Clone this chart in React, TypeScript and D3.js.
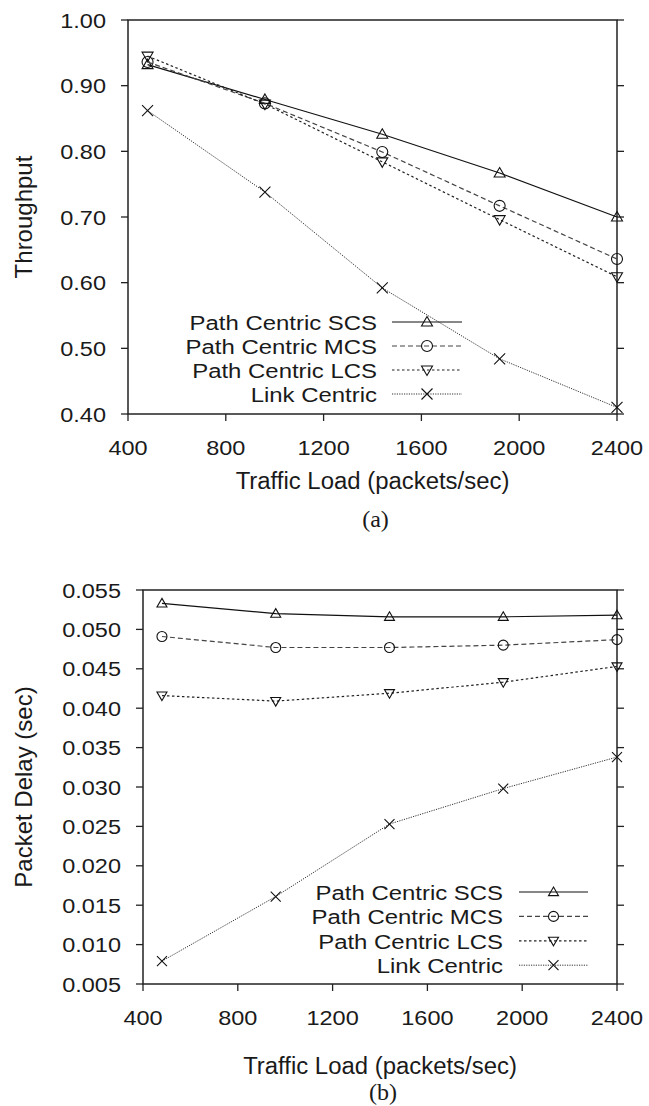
import React from 'react';
import * as d3 from 'd3';

const W = 649;
const H = 1106;
const sans = '"Liberation Sans", Arial, Helvetica, sans-serif';
const serif = '"Liberation Serif", "Times New Roman", serif';

// traffic loads (packets/sec)
const loads = [480, 960, 1440, 1920, 2400];
const xTicks = [400, 800, 1200, 1600, 2000, 2400];

const seriesNames = ['Path Centric SCS', 'Path Centric MCS', 'Path Centric LCS', 'Link Centric'];

// (a) throughput
const throughputSCS = [0.932, 0.879, 0.826, 0.767, 0.700];
const throughputMCS = [0.936, 0.873, 0.799, 0.717, 0.636];
const throughputLCS = [0.945, 0.872, 0.784, 0.696, 0.609];
const throughputLink = [0.862, 0.738, 0.592, 0.484, 0.410];
const throughputTicks = [0.4, 0.5, 0.6, 0.7, 0.8, 0.9, 1.0];

// (b) packet delay
const delaySCS = [0.0533, 0.0520, 0.0516, 0.0516, 0.0518];
const delayMCS = [0.0491, 0.0477, 0.0477, 0.0480, 0.0487];
const delayLCS = [0.0416, 0.0409, 0.0419, 0.0433, 0.0453];
const delayLink = [0.0079, 0.0161, 0.0253, 0.0298, 0.0338];
const delayTicks = [0.005, 0.010, 0.015, 0.020, 0.025, 0.030, 0.035, 0.040, 0.045, 0.050, 0.055];

const lineStyles = [
  { stroke: '#111', dash: undefined, width: 1.2, marker: 'up' },
  { stroke: '#444', dash: '5,3', width: 1.2, marker: 'circle' },
  { stroke: '#222', dash: '2.5,2.5', width: 1.2, marker: 'down' },
  { stroke: '#333', dash: '1.2,1.2', width: 1, marker: 'x' },
];

// text that is a bit wider than the font, like the scanned figure
function Txt({ x, y, size, sx = 1, anchor = 'start', family = sans, children }: any) {
  return (
    <text
      transform={`translate(${x},${y}) scale(${sx},1)`}
      textAnchor={anchor}
      fontFamily={family}
      fontSize={size}
      fill="#1a1a1a"
    >
      {children}
    </text>
  );
}

function Marker({ kind, cx, cy, s }: { kind: string; cx: number; cy: number; s: number }) {
  const st = { fill: 'none', stroke: '#111', strokeWidth: 1.1 };
  if (kind === 'circle') return <circle cx={cx} cy={cy} r={s} {...st} />;
  if (kind === 'up')
    return <path d={`M${cx},${cy - s} L${cx + s},${cy + s * 0.72} L${cx - s},${cy + s * 0.72} Z`} {...st} />;
  if (kind === 'down')
    return <path d={`M${cx},${cy + s} L${cx + s},${cy - s * 0.72} L${cx - s},${cy - s * 0.72} Z`} {...st} />;
  return (
    <path d={`M${cx - s},${cy - s} L${cx + s},${cy + s} M${cx - s},${cy + s} L${cx + s},${cy - s}`} {...st} />
  );
}

type PanelProps = {
  frame: { left: number; right: number; top: number; bottom: number };
  yDomain: [number, number];
  yTicks: number[];
  yFormat: (v: number) => string;
  series: number[][];
  yLabel: string;
  yLabelX: number;
  tickBaseline: number;
  titleBaseline: number;
  caption: string;
  captionBaseline: number;
  legend: { textRight: number; x0: number; x1: number; firstRow: number; step: number };
  ms: number;
};

function Panel(p: PanelProps) {
  const { frame } = p;
  const x = d3.scaleLinear().domain([400, 2400]).range([frame.left, frame.right]);
  const y = d3.scaleLinear().domain(p.yDomain).range([frame.bottom, frame.top]);
  const line = d3
    .line<number>()
    .x((_, i) => x(loads[i]))
    .y((d) => y(d));
  const tick = 7;
  const cx = (frame.left + frame.right) / 2;
  const cy = (frame.top + frame.bottom) / 2;

  return (
    <g>
      {/* frame */}
      <rect
        x={frame.left}
        y={frame.top}
        width={frame.right - frame.left}
        height={frame.bottom - frame.top}
        fill="none"
        stroke="#222"
        strokeWidth={1.5}
      />
      {/* y ticks, left and right */}
      {p.yTicks.map((t) => (
        <g key={'y' + t}>
          <line x1={frame.left - tick} x2={frame.left} y1={y(t)} y2={y(t)} stroke="#222" strokeWidth={1.3} />
          <line x1={frame.right} x2={frame.right + tick} y1={y(t)} y2={y(t)} stroke="#222" strokeWidth={1.3} />
          <Txt x={frame.left - 22} y={y(t) + 7.5} size={21} sx={1.12} anchor="end">
            {p.yFormat(t)}
          </Txt>
        </g>
      ))}
      {/* x ticks */}
      {xTicks.map((t) => (
        <g key={'x' + t}>
          <line x1={x(t)} x2={x(t)} y1={frame.bottom} y2={frame.bottom + tick} stroke="#222" strokeWidth={1.3} />
          <Txt x={x(t)} y={p.tickBaseline} size={21} sx={1.12} anchor="middle">
            {t}
          </Txt>
        </g>
      ))}
      {/* series */}
      {p.series.map((vals, si) => {
        const ls = lineStyles[si];
        return (
          <g key={'s' + si}>
            <path
              d={line(vals) || ''}
              fill="none"
              stroke={ls.stroke}
              strokeWidth={ls.width}
              strokeDasharray={ls.dash}
            />
            {vals.map((v, i) => (
              <Marker key={i} kind={ls.marker} cx={x(loads[i])} cy={y(v)} s={p.ms} />
            ))}
          </g>
        );
      })}
      {/* legend */}
      {seriesNames.map((name, si) => {
        const ls = lineStyles[si];
        const ry = p.legend.firstRow + si * p.legend.step;
        return (
          <g key={'l' + si}>
            <Txt x={p.legend.textRight} y={ry + 7.8} size={21} sx={1.14} anchor="end">
              {name}
            </Txt>
            <line
              x1={p.legend.x0}
              x2={p.legend.x1}
              y1={ry}
              y2={ry}
              stroke={ls.stroke}
              strokeWidth={ls.width}
              strokeDasharray={ls.dash}
            />
            <Marker kind={ls.marker} cx={(p.legend.x0 + p.legend.x1) / 2} cy={ry} s={p.ms} />
          </g>
        );
      })}
      {/* axis titles */}
      <text
        transform={`translate(${p.yLabelX},${cy}) rotate(-90)`}
        textAnchor="middle"
        fontFamily={sans}
        fontSize={24}
        fill="#1a1a1a"
      >
        {p.yLabel}
      </text>
      <Txt x={cx} y={p.titleBaseline} size={23} sx={1.04} anchor="middle">
        Traffic Load (packets/sec)
      </Txt>
      <Txt x={cx + 3} y={p.captionBaseline} size={24} anchor="middle" family={serif}>
        {p.caption}
      </Txt>
    </g>
  );
}

export default function App() {
  return (
    <svg
      width={W}
      height={H}
      viewBox={`0 0 ${W} ${H}`}
      style={{ position: 'absolute', left: 0, top: 0, background: '#fff' }}
    >
      <rect x={0} y={0} width={W} height={H} fill="#fff" />
      <Panel
        frame={{ left: 128, right: 617, top: 20, bottom: 414 }}
        yDomain={[0.4, 1.0]}
        yTicks={throughputTicks}
        yFormat={d3.format('.2f')}
        series={[throughputSCS, throughputMCS, throughputLCS, throughputLink]}
        yLabel="Throughput"
        yLabelX={32}
        tickBaseline={455}
        titleBaseline={489}
        caption="(a)"
        captionBaseline={527}
        legend={{ textRight: 377, x0: 392, x1: 462, firstRow: 322, step: 24 }}
        ms={5.5}
      />
      <Panel
        frame={{ left: 143, right: 617, top: 590, bottom: 984 }}
        yDomain={[0.005, 0.055]}
        yTicks={delayTicks}
        yFormat={d3.format('.3f')}
        series={[delaySCS, delayMCS, delayLCS, delayLink]}
        yLabel="Packet Delay (sec)"
        yLabelX={32}
        tickBaseline={1025}
        titleBaseline={1074}
        caption="(b)"
        captionBaseline={1100}
        legend={{ textRight: 503, x0: 519, x1: 588, firstRow: 892, step: 24.4 }}
        ms={5}
      />
    </svg>
  );
}
